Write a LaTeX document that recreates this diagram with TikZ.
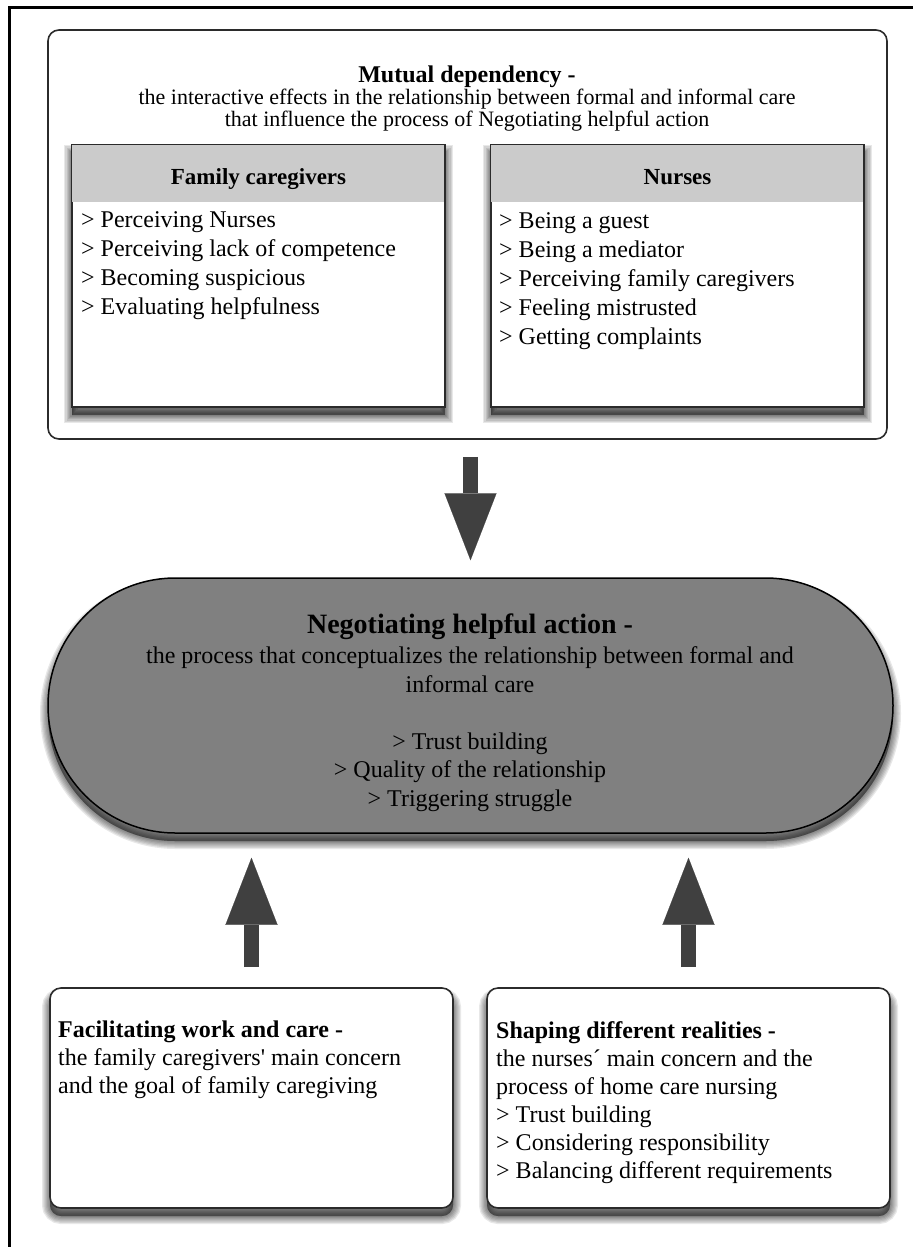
\documentclass[tikz,border=0pt]{standalone}
\usepackage{fontspec}
\setmainfont{Liberation Serif}
\usetikzlibrary{arrows.meta,shapes.misc}

\definecolor{boxline}{HTML}{2B2B2B}
\definecolor{headgray}{HTML}{CBCBCB}
\definecolor{pillgray}{HTML}{808080}
\definecolor{arrowgray}{HTML}{404040}

\tikzset{
	shadowstep/.style={preaction={draw=black, fill=black, opacity=0.09, line width=#1, transform canvas={yshift=-8pt}}},
	softshadow/.style={shadowstep=16pt, shadowstep=13.5pt, shadowstep=11pt, shadowstep=8.5pt, shadowstep=6pt, shadowstep=3.5pt, shadowstep=1pt},
	roundbox/.style={draw=boxline, line width=1.6pt, rounded corners=11pt, fill=white, inner sep=0pt},
	catbox/.style={draw=boxline, line width=1.4pt, fill=white, inner sep=0pt, softshadow},
	pill/.style={rounded rectangle, draw=black, line width=1.5pt, fill=pillgray, inner sep=0pt, softshadow},
	bigarrow/.style={draw=arrowgray, line width=15pt, -{Triangle[width=52pt, length=67pt, line width=0.1pt]}},
	bodytext/.style={font=\fontsize{24}{29}\selectfont, align=left, inner sep=0pt},
	headtext/.style={anchor=base, inner sep=0pt, font=\fontsize{23}{23}\selectfont\bfseries},
}

\begin{document}
\begin{tikzpicture}[x=1pt, y=-1pt]
		%%%%% START %%%%%
		\useasboundingbox (0,0) rectangle (913,1247);
		
		% frame
		\draw[line width=2.5pt] (9.5,1247) -- (9.5,7.5) -- (913,7.5);
		
		% mutual dependency
		\node[roundbox, minimum width=839pt, minimum height=409pt] (mutual) at (467.5,234.5) {};
		\node[anchor=base, inner sep=0pt, font=\fontsize{24}{24}\selectfont\bfseries] (mtitle) at (467,82) {Mutual dependency -};
		\node[anchor=north, inner sep=0pt, align=center, font=\fontsize{22}{22}\selectfont] (msub) at (467,89)
			{the interactive effects in the relationship between formal and informal care\\that influence the process of Negotiating helpful action};
		
		\node[catbox, minimum width=373pt, minimum height=262pt] (fam) at (258.5,276) {};
		\fill[headgray] (fam.north west) rectangle ++(373,58);
		\draw[boxline, line width=1.4pt] (fam.north west) rectangle (fam.south east);
		\node[headtext] (famhead) at (258.5,184) {Family caregivers};
		\node[bodytext, anchor=north west] (famlist) at (81,211)
			{> Perceiving Nurses\\> Perceiving lack of competence\\> Becoming suspicious\\> Evaluating helpfulness};
		
		\node[catbox, minimum width=373pt, minimum height=262pt] (nur) at (677.5,276) {};
		\fill[headgray] (nur.north west) rectangle ++(373,58);
		\draw[boxline, line width=1.4pt] (nur.north west) rectangle (nur.south east);
		\node[headtext] (nurhead) at (677.5,184) {Nurses};
		\node[bodytext, anchor=north west] (nurlist) at (499,212)
			{> Being a guest\\> Being a mediator\\> Perceiving family caregivers\\> Feeling mistrusted\\> Getting complaints};
		
		% negotiating helpful action
		\node[pill, minimum width=845pt, minimum height=255pt] (negot) at (470.5,705.5) {};
		\node[anchor=base, inner sep=0pt, font=\fontsize{28}{28}\selectfont\bfseries] (ntitle) at (470,633) {Negotiating helpful action -};
		\node[anchor=north, inner sep=0pt, align=center, font=\fontsize{24}{28.5}\selectfont] (nbody) at (470,646.5)
			{the process that conceptualizes the relationship between formal and\\informal care\\[28.5pt]
			> Trust building\\> Quality of the relationship\\> Triggering struggle};
		
		% main concerns
		\node[roundbox, softshadow, minimum width=403pt, minimum height=220pt] (facil) at (251.5,1098) {};
		\node[bodytext, anchor=north west, font=\fontsize{24}{28}\selectfont] (ftext) at (58,1021)
			{\textbf{Facilitating work and care -}\\the family caregivers\textquotesingle{} main concern\\and the goal of family caregiving};
		
		\node[roundbox, softshadow, minimum width=403pt, minimum height=220pt] (shap) at (688.5,1098) {};
		\node[bodytext, anchor=north west, font=\fontsize{24}{28}\selectfont] (stext) at (496,1021)
			{\textbf{Shaping different realities -}\\the nurses´ main concern and the\\process of home care nursing\\> Trust building\\> Considering responsibility\\> Balancing different requirements};
		
		% arrows
		\draw[bigarrow, shorten <=17pt, shorten >=17pt] (mutual.south -| negot.north) -- (negot.north);
		\draw[bigarrow, shorten <=20pt, shorten >=24pt] (facil.north) -- (facil.north |- negot.south);
		\draw[bigarrow, shorten <=20pt, shorten >=24pt] (shap.north) -- (shap.north |- negot.south);
		
		%%%%% END %%%%%
	\end{tikzpicture}
\end{document}
